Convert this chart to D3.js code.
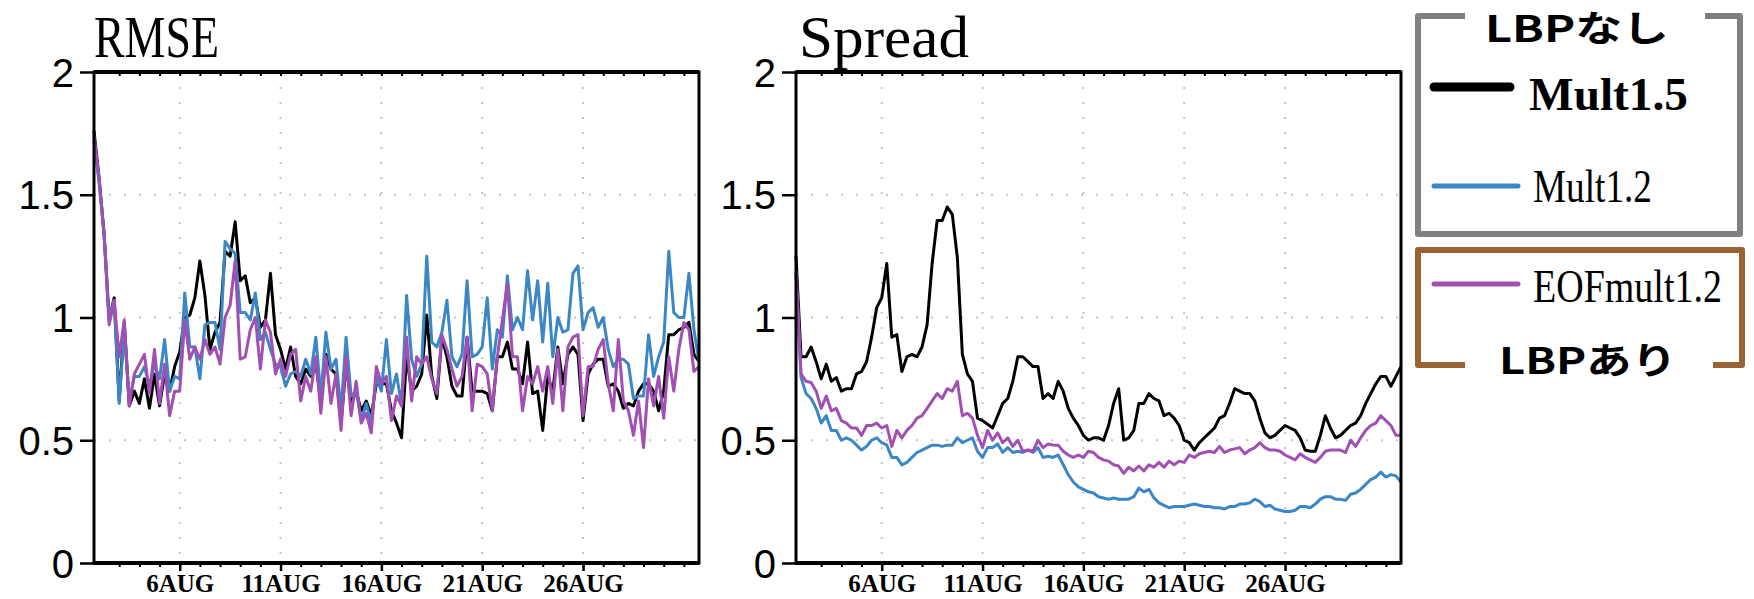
<!DOCTYPE html>
<html>
<head>
<meta charset="utf-8">
<script src="https://cdn.jsdelivr.net/npm/d3@7"></script>
<style>
  body { margin: 0; background: #fff; }
</style>
</head>
<body>
<div id="chart"></div>
<script>
// 6-hourly samples, first one at 1 Aug 18Z (day 0.75 counted from 1 Aug 00Z)
const START_DAY = 0.75
const STEP_DAY = 0.25

const seriesNames = ['Mult1.5', 'Mult1.2', 'EOFmult1.2']

const rmseMult15 = [
  1.76, 1.57, 1.34, 0.99, 1.08, 0.66, 0.98, 0.64, 0.70, 0.65,
  0.75, 0.63, 0.77, 0.64, 0.77, 0.70, 0.80, 0.86, 1.00, 1.01,
  1.08, 1.23, 1.09, 0.87, 0.94, 0.98, 1.27, 1.25, 1.39, 1.15,
  1.17, 1.06, 1.08, 0.96, 0.99, 1.18, 0.93, 0.87, 0.79, 0.88,
  0.76, 0.73, 0.79, 0.76, 0.81, 0.66, 0.85, 0.79, 0.77, 0.57,
  0.81, 0.65, 0.70, 0.62, 0.66, 0.60, 0.73, 0.73, 0.73, 0.62,
  0.57, 0.51, 0.84, 0.70, 0.72, 0.77, 1.01, 0.76, 0.67, 0.92,
  0.84, 0.72, 0.68, 0.68, 0.92, 0.70, 0.70, 0.70, 0.69, 0.62,
  0.84, 0.84, 0.90, 0.79, 0.79, 0.73, 0.90, 0.69, 0.70, 0.54,
  0.76, 0.70, 0.88, 0.73, 0.85, 0.88, 0.85, 0.58, 0.77, 0.81,
  0.83, 0.83, 0.72, 0.73, 0.70, 0.63, 0.65, 0.64, 0.70, 0.73,
  0.73, 0.70, 0.62, 0.70, 0.93, 0.93, 0.95, 0.96, 0.98, 0.85,
  0.82
]
const rmseMult12 = [
  1.72, 1.55, 1.34, 1.00, 1.07, 0.65, 0.95, 0.66, 0.76, 0.76,
  0.80, 0.72, 0.81, 0.75, 0.91, 0.70, 0.76, 0.75, 1.10, 0.88,
  0.88, 0.75, 0.97, 0.98, 0.98, 0.87, 1.31, 1.28, 1.26, 1.02,
  1.02, 0.99, 1.10, 0.91, 0.94, 0.87, 0.81, 0.80, 0.72, 0.77,
  0.78, 0.76, 0.83, 0.77, 0.92, 0.68, 0.94, 0.79, 0.83, 0.62,
  0.92, 0.68, 0.70, 0.58, 0.65, 0.57, 0.76, 0.70, 0.91, 0.69,
  0.77, 0.64, 1.09, 0.83, 0.76, 0.81, 1.25, 0.90, 0.88, 0.94,
  1.07, 0.84, 0.80, 0.85, 1.15, 0.84, 0.85, 0.88, 1.08, 0.79,
  0.95, 0.92, 1.17, 0.95, 1.00, 0.95, 1.19, 0.99, 1.15, 0.90,
  1.14, 0.84, 1.00, 0.94, 0.95, 1.18, 1.21, 0.95, 1.02, 1.04,
  0.96, 1.00, 0.87, 0.80, 0.83, 0.83, 0.81, 0.67, 0.68, 0.68,
  0.93, 0.76, 0.84, 0.90, 1.27, 1.02, 1.00, 1.00, 1.18, 0.95,
  0.82
]
const rmseEof12 = [
  1.74, 1.57, 1.34, 0.97, 1.07, 0.84, 0.99, 0.64, 0.77, 0.81,
  0.85, 0.69, 0.87, 0.65, 0.81, 0.60, 0.70, 0.70, 0.99, 0.83,
  0.88, 0.83, 0.91, 0.85, 0.88, 0.81, 1.00, 1.05, 1.23, 0.83,
  0.84, 0.95, 1.00, 0.79, 0.99, 0.94, 0.77, 0.83, 0.76, 0.85,
  0.87, 0.66, 0.76, 0.70, 0.84, 0.61, 0.84, 0.65, 0.77, 0.54,
  0.84, 0.60, 0.74, 0.57, 0.61, 0.53, 0.80, 0.73, 0.76, 0.58,
  0.68, 0.64, 0.92, 0.66, 0.84, 0.81, 0.84, 0.75, 0.69, 0.93,
  0.87, 0.79, 0.72, 0.76, 0.92, 0.62, 0.81, 0.80, 0.77, 0.62,
  0.84, 0.99, 1.14, 0.84, 0.84, 0.62, 0.76, 0.73, 0.80, 0.70,
  0.80, 0.65, 0.87, 0.62, 0.88, 0.92, 0.93, 0.60, 0.80, 0.80,
  0.87, 0.91, 0.73, 0.62, 0.91, 0.66, 0.62, 0.52, 0.66, 0.47,
  0.75, 0.64, 0.76, 0.59, 0.84, 0.70, 0.87, 0.98, 0.95, 0.78,
  0.80
]

const sprMult15 = [
  1.25, 0.84, 0.84, 0.88, 0.82, 0.75, 0.81, 0.74, 0.755, 0.70,
  0.71, 0.71, 0.77, 0.78, 0.82, 0.92, 1.04, 1.08, 1.22, 0.92,
  0.93, 0.78, 0.84, 0.85, 0.84, 0.88, 0.97, 1.22, 1.395, 1.395,
  1.45, 1.42, 1.245, 0.85, 0.77, 0.74, 0.59, 0.58, 0.565, 0.55,
  0.60, 0.65, 0.67, 0.74, 0.84, 0.84, 0.82, 0.80, 0.80, 0.67,
  0.69, 0.67, 0.74, 0.70, 0.63, 0.59, 0.56, 0.52, 0.50, 0.51,
  0.51, 0.50, 0.56, 0.65, 0.71, 0.50, 0.51, 0.54, 0.65, 0.65,
  0.69, 0.67, 0.66, 0.60, 0.61, 0.59, 0.56, 0.50, 0.49, 0.46,
  0.49, 0.51, 0.53, 0.55, 0.59, 0.60, 0.65, 0.71, 0.70, 0.69,
  0.69, 0.66, 0.59, 0.53, 0.51, 0.52, 0.54, 0.56, 0.55, 0.54,
  0.51, 0.46, 0.455, 0.455, 0.52, 0.60, 0.55, 0.51, 0.52, 0.54,
  0.56, 0.57, 0.60, 0.65, 0.69, 0.73, 0.76, 0.76, 0.72, 0.76,
  0.80
]
const sprMult12 = [
  1.18, 0.755, 0.69, 0.67, 0.63, 0.57, 0.60, 0.54, 0.54, 0.50,
  0.51, 0.50, 0.48, 0.46, 0.475, 0.50, 0.51, 0.49, 0.48, 0.43,
  0.43, 0.40, 0.41, 0.43, 0.45, 0.46, 0.47, 0.48, 0.48, 0.475,
  0.48, 0.48, 0.51, 0.49, 0.50, 0.51, 0.455, 0.43, 0.47, 0.47,
  0.485, 0.45, 0.47, 0.45, 0.455, 0.45, 0.46, 0.45, 0.47, 0.43,
  0.435, 0.43, 0.44, 0.40, 0.36, 0.33, 0.31, 0.30, 0.29, 0.285,
  0.27, 0.265, 0.26, 0.265, 0.26, 0.26, 0.26, 0.27, 0.305, 0.29,
  0.30, 0.265, 0.245, 0.235, 0.225, 0.23, 0.23, 0.23, 0.235, 0.24,
  0.235, 0.23, 0.23, 0.225, 0.225, 0.22, 0.23, 0.23, 0.24, 0.24,
  0.245, 0.26, 0.25, 0.23, 0.235, 0.22, 0.215, 0.21, 0.21, 0.215,
  0.23, 0.23, 0.225, 0.24, 0.26, 0.27, 0.27, 0.26, 0.26, 0.255,
  0.28, 0.285, 0.30, 0.32, 0.34, 0.35, 0.37, 0.35, 0.36, 0.355,
  0.33
]
const sprEof12 = [
  1.19, 0.77, 0.74, 0.735, 0.70, 0.63, 0.68, 0.62, 0.63, 0.58,
  0.57, 0.55, 0.55, 0.52, 0.56, 0.56, 0.57, 0.55, 0.56, 0.475,
  0.54, 0.51, 0.54, 0.56, 0.59, 0.60, 0.63, 0.66, 0.69, 0.67,
  0.71, 0.70, 0.74, 0.60, 0.61, 0.59, 0.52, 0.47, 0.54, 0.50,
  0.53, 0.49, 0.51, 0.475, 0.50, 0.455, 0.46, 0.455, 0.50, 0.47,
  0.485, 0.48, 0.48, 0.455, 0.44, 0.43, 0.44, 0.43, 0.455, 0.45,
  0.43, 0.42, 0.415, 0.40, 0.395, 0.365, 0.39, 0.375, 0.395, 0.375,
  0.40, 0.39, 0.41, 0.39, 0.415, 0.40, 0.415, 0.41, 0.44, 0.43,
  0.445, 0.45, 0.455, 0.45, 0.475, 0.45, 0.46, 0.465, 0.47, 0.445,
  0.46, 0.47, 0.49, 0.47, 0.46, 0.46, 0.455, 0.44, 0.43, 0.42,
  0.445, 0.43, 0.42, 0.41, 0.43, 0.455, 0.46, 0.46, 0.46, 0.45,
  0.50, 0.475, 0.51, 0.54, 0.56, 0.57, 0.60, 0.58, 0.56, 0.52,
  0.52
]

const yTicks = [0, 0.5, 1, 1.5, 2]
const xTickDays = [5, 10, 15, 20, 25]
const xTickLabels = ['6AUG', '11AUG', '16AUG', '21AUG', '26AUG']
const panelTitles = ['RMSE', 'Spread']
const groupTitles = ['LBPなし', 'LBPあり']

// styles / layout

const WIDTH = 1754, HEIGHT = 599
const PANEL_W = 605, PANEL_H = 491, PANEL_TOP = 72
const PANEL_LEFT = [94, 796]
const TITLE_LEN = [125, 170]
const COLORS = ['#000000', '#3b87c6', '#a24fb4']
const LINE_W = 3
const GRID = '#c4c4c4'

const panels = [
  { title: panelTitles[0], series: [rmseMult15, rmseMult12, rmseEof12] },
  { title: panelTitles[1], series: [sprMult15, sprMult12, sprEof12] }
]

// squeeze a text horizontally to a given width (keeps its height)
function fitWidth(sel, x, y, width) {
  sel.each(function(d, i) {
    let w = this.getComputedTextLength()
    let tx = typeof x === 'function' ? x(d, i) : x
    let ty = typeof y === 'function' ? y(d, i) : y
    let tw = typeof width === 'function' ? width(d, i) : width
    d3.select(this)
      .attr('x', 0).attr('y', 0)
      .attr('transform', 'translate(' + [tx, ty] + ') scale(' + (tw / w) + ',1)')
  })
}

let svg = d3.select('#chart')
  .append('svg')
    .attr('width', WIDTH)
    .attr('height', HEIGHT)

svg.append('rect')
  .attr('width', WIDTH)
  .attr('height', HEIGHT)
  .attr('fill', '#fff')

let x = d3.scaleLinear()
  .domain([START_DAY, START_DAY + STEP_DAY * (rmseMult15.length - 1)])
  .range([0, PANEL_W])

let y = d3.scaleLinear()
  .domain([0, 2])
  .range([PANEL_H, 0])

let line = d3.line()
  .x((d, i) => x(START_DAY + i * STEP_DAY))
  .y((d) => y(d))

panels.forEach((p, k) => {
  let g = svg.append('g')
    .attr('transform', 'translate(' + [PANEL_LEFT[k], PANEL_TOP] + ')')

  // title
  g.append('text')
    .attr('font-family', '"Liberation Serif", serif')
    .attr('font-size', 60)
    .attr('fill', '#000')
    .text(p.title)
    .call(fitWidth, k === 0 ? 0 : 3, -15, TITLE_LEN[k])

  // dotted grid
  g.append('g')
    .selectAll('line')
    .data(yTicks.filter((d) => d > 0 && d < 2))
    .enter().append('line')
      .attr('x1', 0).attr('x2', PANEL_W)
      .attr('y1', (d) => y(d)).attr('y2', (d) => y(d))
      .attr('stroke', GRID)
      .attr('stroke-width', 2)
      .attr('stroke-dasharray', '2,13')

  g.append('g')
    .selectAll('line')
    .data(xTickDays)
    .enter().append('line')
      .attr('x1', (d) => x(d)).attr('x2', (d) => x(d))
      .attr('y1', 0).attr('y2', PANEL_H)
      .attr('stroke', GRID)
      .attr('stroke-width', 2)
      .attr('stroke-dasharray', '2,13')

  // series
  g.append('g')
    .selectAll('path')
    .data(p.series)
    .enter().append('path')
      .attr('d', line)
      .attr('fill', 'none')
      .attr('stroke', (d, i) => COLORS[i])
      .attr('stroke-width', LINE_W)
      .attr('stroke-linejoin', 'round')

  // y axis
  let yAxis = g.append('g')
    .call(d3.axisLeft(y).tickValues(yTicks).tickSize(14).tickPadding(6).tickFormat((d) => String(d)))
  yAxis.select('.domain').remove()
  yAxis.selectAll('line').attr('stroke-width', 2.5)
  yAxis.selectAll('text')
    .attr('font-family', '"Liberation Sans", Arial, sans-serif')
    .attr('font-size', 40)
    .attr('dy', '0.35em')
    .attr('fill', '#000')

  // minor ticks (daily) top and bottom
  let minor = d3.range(2, 31)
  let bMinor = g.append('g')
    .attr('transform', 'translate(0,' + PANEL_H + ')')
    .call(d3.axisBottom(x).tickValues(minor).tickSize(4).tickFormat(''))
  bMinor.select('.domain').remove()
  bMinor.selectAll('line').attr('stroke-width', 2)

  let tMinor = g.append('g')
    .call(d3.axisTop(x).tickValues(minor).tickSize(-4).tickFormat(''))
  tMinor.select('.domain').remove()
  tMinor.selectAll('line').attr('stroke-width', 2)

  // x axis
  let xAxis = g.append('g')
    .attr('transform', 'translate(0,' + PANEL_H + ')')
    .call(d3.axisBottom(x).tickValues(xTickDays).tickSize(8).tickPadding(3)
      .tickFormat((d, i) => xTickLabels[i]))
  xAxis.select('.domain').remove()
  xAxis.selectAll('line').attr('stroke-width', 2.5)
  xAxis.selectAll('text')
    .attr('font-family', '"Liberation Serif", serif')
    .attr('font-weight', 'bold')
    .attr('font-size', 25)
    .attr('fill', '#000')

  // frame
  g.append('rect')
    .attr('width', PANEL_W)
    .attr('height', PANEL_H)
    .attr('fill', 'none')
    .attr('stroke', '#000')
    .attr('stroke-width', 3)
  g.append('line')
    .attr('x1', 0).attr('x2', PANEL_W)
    .attr('stroke', '#000').attr('stroke-width', 4)
  g.append('line')
    .attr('x1', 0).attr('x2', PANEL_W)
    .attr('y1', PANEL_H).attr('y2', PANEL_H)
    .attr('stroke', '#000').attr('stroke-width', 4)
})

// legend

let legend = svg.append('g').attr('class', 'legend')

// grey bracket (LBPなし)
legend.append('path')
  .attr('d', 'M1465,16 H1418 V234 H1740 V16 H1705')
  .attr('fill', 'none')
  .attr('stroke', '#808080')
  .attr('stroke-width', 6)
  .attr('stroke-linejoin', 'round')

// brown bracket (LBPあり)
legend.append('path')
  .attr('d', 'M1465,365 H1418 V250 H1742 V365 H1713')
  .attr('fill', 'none')
  .attr('stroke', '#9a6332')
  .attr('stroke-width', 6)
  .attr('stroke-linejoin', 'round')

const GROUP_X = [1485, 1499]
const GROUP_Y = [42, 374]
const GROUP_LEN = [184, 178]

legend.selectAll('.group-title')
  .data(groupTitles)
  .enter().append('text')
    .attr('class', 'group-title')
    .attr('font-family', '"Noto Sans CJK JP", "Noto Sans", sans-serif')
    .attr('font-weight', 'bold')
    .attr('font-size', 36)
    .attr('fill', '#000')
    .text((d) => d)
    .call(fitWidth, (d, i) => GROUP_X[i], (d, i) => GROUP_Y[i], (d, i) => GROUP_LEN[i])

const LEG_Y = [87, 186, 284]
const LEG_TXT_Y = [110, 202, 302]
const LEG_LINE_W = [9, 5, 5]
const LEG_LINE_X2 = [1510, 1518, 1518]
const LEG_TXT_X = [1529, 1533, 1533]
const LEG_TXT_LEN = [159, 119, 189]

let items = legend.selectAll('.item')
  .data(seriesNames)
  .enter().append('g')
    .attr('class', 'item')

items.append('line')
  .attr('x1', 1434)
  .attr('x2', (d, i) => LEG_LINE_X2[i])
  .attr('y1', (d, i) => LEG_Y[i])
  .attr('y2', (d, i) => LEG_Y[i])
  .attr('stroke', (d, i) => COLORS[i])
  .attr('stroke-width', (d, i) => LEG_LINE_W[i])
  .attr('stroke-linecap', 'round')

items.append('text')
  .attr('font-family', '"Liberation Serif", serif')
  .attr('font-weight', (d, i) => i === 0 ? 'bold' : 'normal')
  .attr('font-size', 46)
  .attr('fill', '#000')
  .text((d) => d)
  .call(fitWidth, (d, i) => LEG_TXT_X[i], (d, i) => LEG_TXT_Y[i], (d, i) => LEG_TXT_LEN[i])
</script>
</body>
</html>
